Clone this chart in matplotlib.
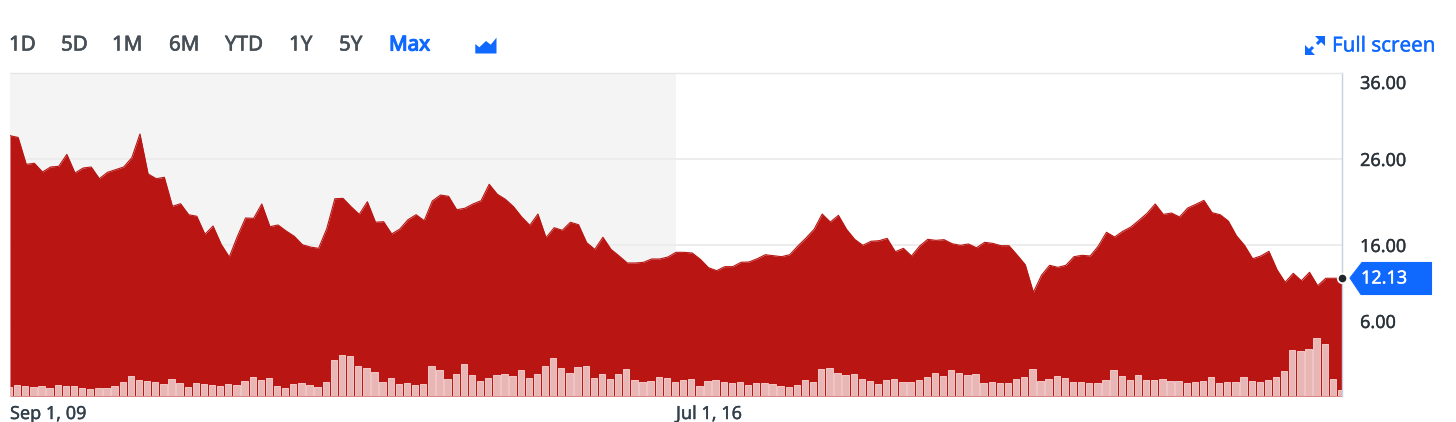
import numpy as np
import matplotlib
matplotlib.use("Agg")
import matplotlib.pyplot as plt
import matplotlib.patheffects as pe
from matplotlib.patches import Polygon

plt.rcParams['font.family'] = ['Noto Sans', 'DejaVu Sans']

# Monthly close prices, Sep 2009 onward
price = [
 29.03,28.8,25.38,25.5,24.49,25.07,25.15,26.6,24.37,24.95,25.07,23.71,24.45,24.76,25.07,26.17,29.25,24.26,23.71,23.87,
 20.5,20.8,19.52,19.34,17.24,18.21,16.08,14.59,17.01,19.14,19.1,20.77,18.13,18.33,17.63,17.01,16.03,15.76,15.61,17.9,
 21.38,21.42,20.45,19.56,21.03,18.65,18.71,17.28,17.86,18.94,19.52,18.83,21.12,21.81,21.66,20.1,20.27,20.77,21.15,23.06,
 21.9,21.31,20.45,19.26,18.29,19.6,16.85,18.01,17.71,18.64,18.36,16.27,15.49,16.9,15.49,14.71,13.89,13.89,13.97,14.36,
 14.36,14.59,15.14,15.14,15.06,14.32,13.34,12.99,13.46,13.46,13.97,14.01,14.39,14.86,14.74,14.63,14.86,15.88,16.81,17.82,
 19.6,18.67,19.45,17.82,16.66,15.96,16.43,16.5,16.77,15.21,15.61,14.71,15.88,16.66,16.54,16.62,16.15,15.96,16.12,15.68,
 16.31,16.19,15.92,15.92,14.83,13.69,10.09,12.45,13.62,13.38,13.62,14.63,14.79,14.71,15.88,17.48,16.93,17.59,18.09,18.87,
 19.69,20.77,19.56,19.72,19.26,20.3,20.73,21.19,19.76,19.52,18.79,17.08,15.96,14.39,14.71,15.26,13.1,11.52,12.68,11.74,
 12.8,11.03,12.09,12.09,12.13]

# Monthly volume (relative units)
volume = [
 27,33,31,26,29,25,33,31,29,23,22,23,23,30,42,61,47,46,43,37,
 51,38,28,38,35,32,31,36,34,45,57,47,53,29,25,36,40,34,28,42,
 108,122,121,91,84,72,43,55,35,40,33,37,89,78,50,66,96,62,46,53,
 62,67,59,79,55,67,91,115,84,70,87,89,55,65,52,66,80,48,42,45,
 58,55,43,48,51,31,45,49,41,38,43,33,38,40,36,30,27,34,49,41,
 82,84,68,63,66,50,45,36,47,52,42,41,49,56,68,61,79,68,62,65,
 39,43,38,38,52,56,82,45,52,59,55,43,43,40,39,49,79,59,47,64,
 47,47,52,46,46,38,43,45,58,40,43,43,57,45,42,47,58,74,137,134,
 140,174,157,52,19]

x_tick_positions = [0, 82]
x_tick_labels = ["Sep 1, 09", "Jul 1, 16"]
y_ticks = [6, 16, 26, 36]
y_tick_labels = ["6.00", "16.00", "26.00", "36.00"]
last_price = 12.13
last_label = "12.13"
range_labels = ["1D", "5D", "1M", "6M", "YTD", "1Y", "5Y"]
range_x = [9, 61, 112, 169, 225, 289, 339]
months = np.arange(len(price))

W, H = 1456, 422
RED = "#b91512"
BLUE = "#0f69ff"
INK = "#2a323a"

fig = plt.figure(figsize=(W / 100, H / 100), dpi=100, facecolor="white")
L, R, T, B = 10, 1342, 73, 396
rect = [L / W, 1 - B / H, (R - L) / W, (B - T) / H]

# the price axis of the original is not evenly spaced between its ticks
scale_v = [-20, 6, 12.13, 16, 26, 36, 60]
scale_p = [-122.6, 75, 118, 151, 237, 314, 498.8]
def fwd(v):
    return np.interp(v, scale_v, scale_p)
def inv(p):
    return np.interp(p, scale_p, scale_v)

def heavy(width, color):
    return [pe.withStroke(linewidth=width, foreground=color)]

ax = fig.add_axes(rect, zorder=1)
ax.set_yscale('function', functions=(fwd, inv))
ax.set_xlim(0, months[-1])
ymin, ymax = -3.87, 37.17
ax.set_ylim(ymin, ymax)
ax.axvspan(0, x_tick_positions[1], color="#f4f4f4", lw=0, zorder=0)
ax.set_yticks(y_ticks, y_tick_labels)
ax.set_xticks(x_tick_positions, x_tick_labels, ha="left")
ax.yaxis.tick_right()
ax.tick_params(axis='y', length=0, pad=13.0, labelsize=13.0, labelcolor=INK)
ax.tick_params(axis='x', length=0, pad=6.5, labelsize=13.0, labelcolor="#33404c")
ax.grid(axis='y', color="#ececec", lw=1.3, zorder=0.5)
ax.get_ygridlines()[3].set_visible(False)
ax.set_axisbelow(True)
for s in ["left", "bottom"]:
    ax.spines[s].set_visible(False)
ax.spines["top"].set_color("#e6e6e6")
ax.spines["top"].set_linewidth(1)
ax.spines["right"].set_color("#c9cfe2")
ax.spines["right"].set_linewidth(1)
for t in ax.get_yticklabels() + ax.get_xticklabels():
    t.set_path_effects(heavy(0.25, t.get_color()))
ax.fill_between(months, price, ymin, color=RED, lw=0, zorder=2)
ax.plot(months, price, color=RED, lw=0.8, zorder=2)

vol = fig.add_axes(rect, zorder=2, sharex=ax)
vol.patch.set_visible(False)
vol.axis("off")
vol.bar(months - 0.12, volume, width=0.78, color="#e9b6b6", edgecolor="#f3c8c8", lw=0.7)
vol.set_ylim(0, 969)
vol.set_xlim(0, months[-1])
vol.plot([months[-1]], [last_price], transform=ax.transData, marker="o", ms=6.8,
         mfc="#20262c", mec="white", mew=1.3, clip_on=False, zorder=5)

# overlay in pixel units for the toolbar and the price tag
ov = fig.add_axes([0, 0, 1, 1], zorder=3)
ov.set_xlim(0, W)
ov.set_ylim(H, 0)
ov.axis("off")
for lab, xp in zip(range_labels, range_x):
    ov.text(xp, 45.5, lab, fontsize=14.8, color="#464e56", va="center", ha="left",
            path_effects=heavy(0.45, "#464e56"))
ov.text(389, 45.5, "Max", fontsize=14.8, color=BLUE, va="center", ha="left",
        path_effects=heavy(0.9, BLUE))
ov.add_patch(Polygon([(475.3, 44), (479.3, 47.3), (486, 41), (490.7, 44.7), (496.5, 37.7), (496.5, 53.5), (475.3, 53.5)],
                     closed=True, fc=BLUE, ec="none"))
ov.text(1332, 46.5, "Full screen", fontsize=14.8, color=BLUE, va="center", ha="left",
        path_effects=heavy(0.25, BLUE))
for a, b, c in [((1305, 55), (1305, 45), (1315, 55)), ((1325, 36), (1315, 36), (1325, 46))]:
    ov.add_patch(Polygon([a, b, c], closed=True, fc=BLUE, ec="none"))
ov.plot([1307, 1313], [53, 47], color=BLUE, lw=2.2, solid_capstyle="butt")
ov.plot([1317, 1323], [44, 38], color=BLUE, lw=2.2, solid_capstyle="butt")
ov.add_patch(Polygon([(1350, 278), (1362, 262.5), (1431.5, 262.5), (1431.5, 294.5), (1361, 294.5)],
                     closed=True, fc=BLUE, ec=BLUE, lw=0.8, joinstyle="round"))
ov.text(1361, 278.5, last_label, fontsize=13.0, color="white", va="center", ha="left",
        path_effects=heavy(0.25, "white"))

fig.savefig("out.png", dpi=100, facecolor="white")
